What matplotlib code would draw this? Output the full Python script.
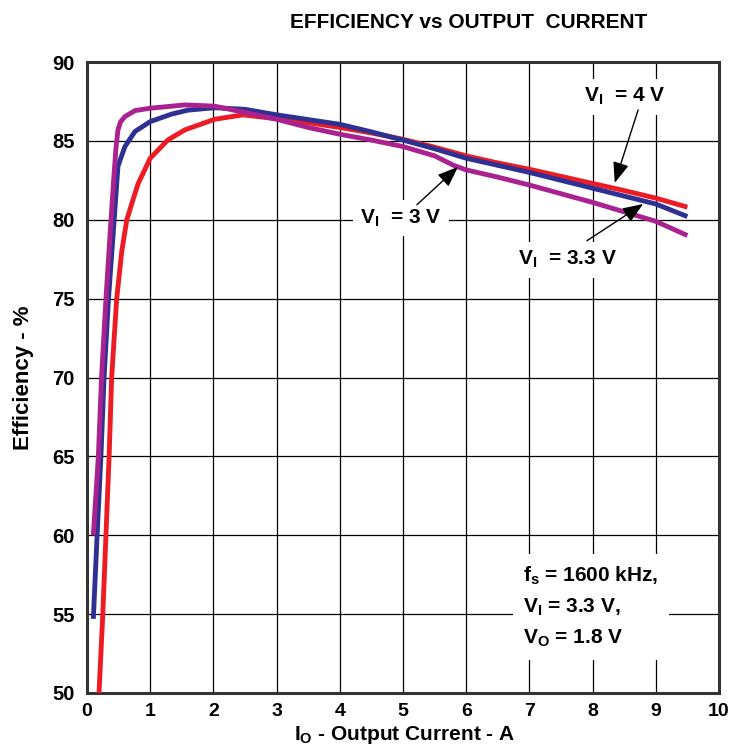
import numpy as np
import matplotlib
matplotlib.use("Agg")
import matplotlib.pyplot as plt

plt.rcParams['font.family'] = ['Liberation Sans', 'DejaVu Sans']
plt.rcParams['font.weight'] = 'bold'
plt.rcParams['mathtext.fontset'] = 'custom'
plt.rcParams['mathtext.rm'] = 'Liberation Sans:bold'
plt.rcParams['mathtext.it'] = 'Liberation Sans:bold'
plt.rcParams['mathtext.bf'] = 'Liberation Sans:bold'

# --- data ---
# V_I = 4 V (red)
x_4v = [0.19, 0.25, 0.30, 0.35, 0.39, 0.47, 0.55, 0.63, 0.73, 0.81, 1.0, 1.28, 1.55,
        2.02, 2.47, 3.0, 3.5, 4.0, 4.5, 5.0, 5.5, 6.0, 6.5, 7.0, 7.5, 8.0, 8.5, 9.0, 9.5]
y_4v = [50, 55, 60, 65, 70, 75, 78, 80, 81.3, 82.3, 83.9, 85.06, 85.7,
        86.37, 86.65, 86.4, 86.15, 85.85, 85.5, 85.1, 84.6, 84.05, 83.6, 83.2, 82.75, 82.3, 81.85, 81.37, 80.8]

# V_I = 3.3 V (blue)
x_33v = [0.1, 0.16, 0.22, 0.27, 0.34, 0.43, 0.49, 0.6, 0.76, 1.0, 1.34, 1.6, 2.02, 2.5,
         3.0, 3.5, 4.0, 4.5, 5.0, 5.5, 6.0, 6.5, 7.0, 7.5, 8.0, 8.5, 9.0, 9.5]
y_33v = [54.7, 60, 65, 70, 75, 80, 83.4, 84.64, 85.6, 86.22, 86.7, 86.95, 87.1, 87.0,
         86.65, 86.35, 86.05, 85.57, 85.05, 84.5, 83.9, 83.45, 83.0, 82.5, 82.0, 81.5, 81.0, 80.2]

# V_I = 3 V (magenta)
x_3v = [0.1, 0.18, 0.23, 0.30, 0.38, 0.43, 0.46, 0.49, 0.53, 0.6, 0.76, 1.0, 1.55, 2.02, 2.5,
        3.0, 3.5, 4.0, 4.5, 5.0, 5.5, 5.8, 6.0, 6.5, 7.0, 7.5, 8.0, 8.5, 9.0, 9.5]
y_3v = [60, 65, 70, 75, 80, 83, 84.6, 85.7, 86.2, 86.54, 86.92, 87.07, 87.28, 87.2, 86.8,
        86.37, 85.85, 85.42, 85.05, 84.64, 84.05, 83.45, 83.16, 82.7, 82.2, 81.65, 81.1, 80.5, 79.9, 79.0]

x_ticks = np.arange(0, 11, 1)
y_ticks = np.arange(50, 91, 5)

fig = plt.figure(figsize=(7.35, 7.48), dpi=100)
ax = fig.add_axes([87 / 735, 1 - 693 / 748, 632 / 735, 631 / 748])

ax.plot(x_4v, y_4v, color='#ED1C24', lw=3.5, solid_capstyle='butt', solid_joinstyle='round', zorder=3)
ax.plot(x_33v, y_33v, color='#2E3192', lw=3.5, solid_capstyle='butt', solid_joinstyle='round', zorder=3)
ax.plot(x_3v, y_3v, color='#AA2290', lw=3.5, solid_capstyle='butt', solid_joinstyle='round', zorder=3)

ax.set_xlim(0, 10)
ax.set_ylim(50, 90)
ax.set_xticks(x_ticks)
ax.set_yticks(y_ticks)
ax.grid(True, color='black', lw=0.9, zorder=1)
ax.set_axisbelow(True)
ax.tick_params(axis='y', length=0, labelsize=14.5, pad=9)
ax.tick_params(axis='x', length=0, labelsize=14, pad=7)
for lab in ax.get_xticklabels() + ax.get_yticklabels():
    lab.set_fontweight('bold')
for sp in ax.spines.values():
    sp.set_linewidth(2.2)
    sp.set_color('#333333')

fig.text(405 / 735, 1 - 735 / 748, r"$\mathregular{I_O}$ - Output Current - A", ha='center', va='center',
         fontsize=15, fontweight='bold')
fig.text(24 / 735, 1 - 378 / 748, "Efficiency - %", ha='center', va='center', rotation=90,
         fontsize=16, fontweight='bold')
fig.text(469 / 735, 1 - 22 / 748, "EFFICIENCY vs OUTPUT  CURRENT", ha='center', va='center',
         fontsize=15, fontweight='bold')

box = dict(boxstyle='square,pad=0.35', fc='white', ec='none')
arrow = dict(arrowstyle='-|>,head_length=0.9,head_width=0.35', color='black', lw=1.0,
             shrinkA=0, shrinkB=0, mutation_scale=14)

# --- curve labels ---
ax.text(8.51, 87.8, r"$\mathregular{V_I}$  = 4 V", ha='center', va='center', fontsize=15,
        fontweight='bold', bbox=box, zorder=4)
ax.annotate('', xy=(8.35, 82.34), xytext=(8.72, 86.96), arrowprops=arrow, zorder=5)

ax.text(4.97, 80.1, r"$\mathregular{V_I}$  = 3 V", ha='center', va='center', fontsize=15,
        fontweight='bold', bbox=box, zorder=4)
ax.annotate('', xy=(5.87, 83.35), xytext=(5.22, 80.95), arrowprops=arrow, zorder=5)

ax.text(7.6, 77.47, r"$\mathregular{V_I}$  = 3.3 V", ha='center', va='center', fontsize=15,
        fontweight='bold', bbox=box, zorder=4)
ax.annotate('', xy=(8.8, 81.0), xytext=(7.91, 78.67), arrowprops=arrow, zorder=5)

# --- operating conditions ---
ax.text(6.9, 55.45, "$\\mathregular{f_s}$ = 1600 kHz,\n$\\mathregular{V_I}$ = 3.3 V,\n$\\mathregular{V_O}$ = 1.8 V",
        ha='left', va='center', fontsize=15, fontweight='bold', linespacing=1.62,
        bbox=dict(boxstyle='square,pad=0.5', fc='white', ec='none'), zorder=4)

fig.savefig("out.png", dpi=100)
